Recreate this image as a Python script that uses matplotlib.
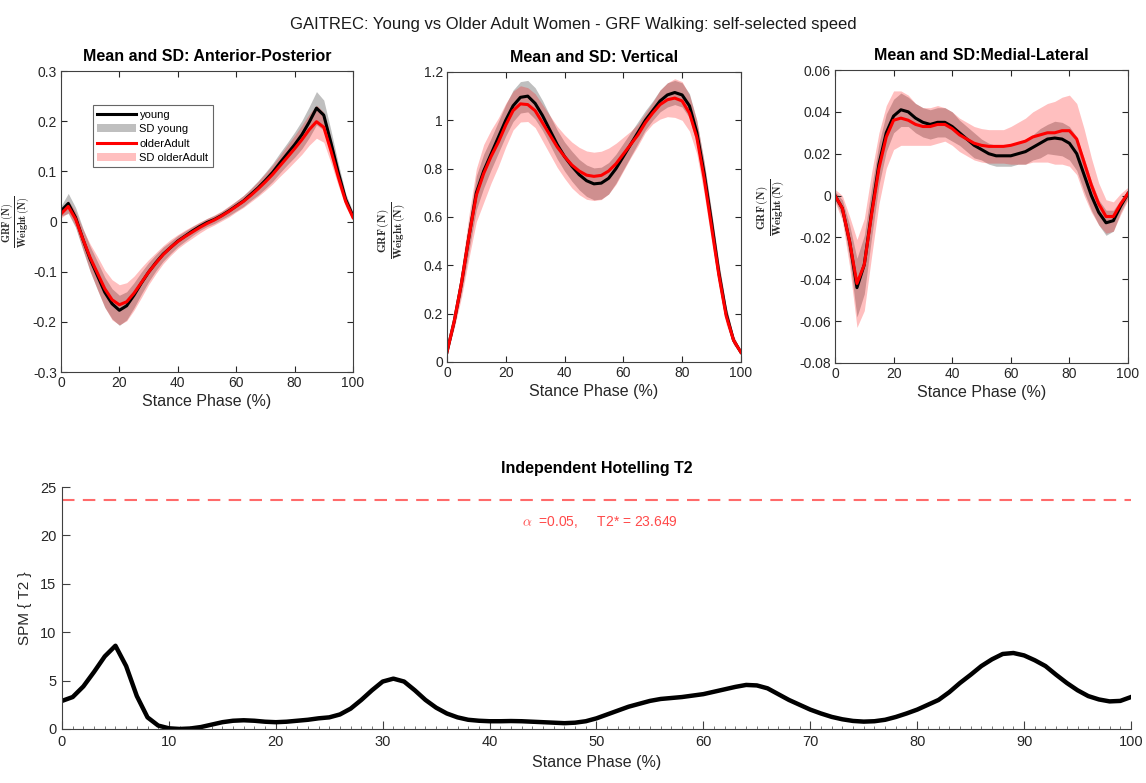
import numpy as np
import matplotlib
matplotlib.use('Agg')
import matplotlib.pyplot as plt
from matplotlib.patches import Patch
from matplotlib.lines import Line2D

plt.rcParams['font.family'] = ['Liberation Sans', 'DejaVu Sans']
plt.rcParams['mathtext.fontset'] = 'cm'

# stance phase sample points (%) for the mean / SD curves
pct = np.linspace(0, 100, 41)

# Anterior-Posterior
ap_young = [0.021, 0.036, 0.008, -0.035, -0.075, -0.108, -0.141, -0.164, -0.177, -0.168,
            -0.147, -0.123, -0.101, -0.082, -0.065, -0.052, -0.039, -0.029, -0.019, -0.010,
            -0.002, 0.004, 0.012, 0.021, 0.031, 0.041, 0.054, 0.067, 0.082, 0.098,
            0.117, 0.135, 0.153, 0.173, 0.198, 0.226, 0.212, 0.156, 0.097, 0.044, 0.011]
ap_young_sd = [0.010, 0.020, 0.020, 0.022, 0.025, 0.028, 0.030, 0.030, 0.030, 0.028,
               0.025, 0.022, 0.019, 0.016, 0.014, 0.012, 0.011, 0.010, 0.009, 0.008,
               0.008, 0.008, 0.008, 0.009, 0.010, 0.011, 0.012, 0.014, 0.016, 0.018,
               0.020, 0.022, 0.025, 0.028, 0.031, 0.033, 0.030, 0.025, 0.018, 0.012, 0.008]
ap_old = [0.015, 0.030, 0.005, -0.035, -0.072, -0.103, -0.134, -0.156, -0.166, -0.160,
          -0.143, -0.122, -0.101, -0.083, -0.066, -0.052, -0.040, -0.030, -0.021, -0.012,
          -0.004, 0.003, 0.011, 0.020, 0.030, 0.040, 0.052, 0.065, 0.079, 0.094,
          0.111, 0.128, 0.145, 0.163, 0.183, 0.199, 0.188, 0.140, 0.088, 0.040, 0.008]
ap_old_sd = [0.008, 0.012, 0.015, 0.020, 0.027, 0.033, 0.037, 0.040, 0.040, 0.038,
             0.034, 0.030, 0.025, 0.021, 0.018, 0.016, 0.014, 0.013, 0.012, 0.011,
             0.010, 0.010, 0.010, 0.011, 0.011, 0.012, 0.013, 0.015, 0.017, 0.019,
             0.021, 0.024, 0.026, 0.029, 0.031, 0.033, 0.030, 0.024, 0.017, 0.011, 0.007]

# Vertical
vt_young = [0.04, 0.17, 0.33, 0.52, 0.70, 0.79, 0.86, 0.93, 1.00, 1.06,
            1.095, 1.10, 1.07, 1.02, 0.96, 0.90, 0.85, 0.81, 0.775, 0.75,
            0.737, 0.74, 0.76, 0.80, 0.85, 0.90, 0.95, 1.00, 1.04, 1.08,
            1.105, 1.115, 1.105, 1.06, 0.95, 0.78, 0.58, 0.37, 0.20, 0.09, 0.04]
vt_young_sd = [0.005, 0.02, 0.04, 0.06, 0.07, 0.07, 0.065, 0.065, 0.065, 0.065,
               0.065, 0.065, 0.065, 0.062, 0.06, 0.06, 0.06, 0.062, 0.063, 0.065,
               0.066, 0.066, 0.065, 0.06, 0.055, 0.05, 0.045, 0.04, 0.04, 0.045,
               0.05, 0.05, 0.05, 0.05, 0.05, 0.05, 0.045, 0.04, 0.03, 0.015, 0.005]
vt_old = [0.04, 0.17, 0.33, 0.52, 0.69, 0.78, 0.85, 0.91, 0.98, 1.04,
          1.068, 1.065, 1.04, 0.99, 0.94, 0.89, 0.85, 0.815, 0.79, 0.773,
          0.768, 0.772, 0.79, 0.82, 0.86, 0.90, 0.94, 0.99, 1.03, 1.065,
          1.085, 1.092, 1.08, 1.03, 0.93, 0.76, 0.56, 0.36, 0.19, 0.09, 0.04]
vt_old_sd = [0.005, 0.03, 0.06, 0.09, 0.11, 0.12, 0.11, 0.10, 0.09, 0.08,
             0.075, 0.07, 0.07, 0.075, 0.08, 0.085, 0.09, 0.095, 0.098, 0.10,
             0.10, 0.10, 0.095, 0.085, 0.07, 0.055, 0.045, 0.04, 0.045, 0.06,
             0.07, 0.08, 0.08, 0.075, 0.07, 0.065, 0.06, 0.05, 0.035, 0.02, 0.005]

# Medial-Lateral
ml_young = [0.0, -0.006, -0.022, -0.044, -0.033, -0.008, 0.015, 0.030, 0.038, 0.041,
            0.040, 0.037, 0.035, 0.034, 0.035, 0.035, 0.033, 0.030, 0.027, 0.024,
            0.022, 0.020, 0.019, 0.019, 0.019, 0.020, 0.021, 0.023, 0.025, 0.027,
            0.0275, 0.027, 0.025, 0.020, 0.010, 0.000, -0.008, -0.013, -0.012, -0.005, 0.001]
ml_young_sd = [0.002, 0.004, 0.008, 0.014, 0.014, 0.012, 0.010, 0.009, 0.008, 0.008,
               0.007, 0.007, 0.007, 0.007, 0.007, 0.007, 0.007, 0.006, 0.006, 0.006,
               0.005, 0.005, 0.005, 0.005, 0.005, 0.005, 0.006, 0.006, 0.007, 0.007,
               0.008, 0.008, 0.008, 0.008, 0.008, 0.007, 0.006, 0.006, 0.005, 0.003, 0.002]
ml_old = [0.0, -0.006, -0.022, -0.042, -0.033, -0.009, 0.013, 0.028, 0.036, 0.037,
          0.036, 0.034, 0.033, 0.033, 0.034, 0.034, 0.032, 0.029, 0.027, 0.025,
          0.024, 0.0235, 0.0235, 0.0235, 0.024, 0.025, 0.026, 0.028, 0.029, 0.030,
          0.030, 0.031, 0.031, 0.027, 0.016, 0.005, -0.004, -0.010, -0.010, -0.004, 0.001]
ml_old_sd = [0.003, 0.006, 0.012, 0.021, 0.022, 0.020, 0.017, 0.015, 0.014, 0.013,
             0.012, 0.010, 0.009, 0.009, 0.009, 0.008, 0.008, 0.008, 0.008, 0.008,
             0.008, 0.008, 0.008, 0.008, 0.009, 0.010, 0.011, 0.012, 0.013, 0.014,
             0.015, 0.016, 0.017, 0.017, 0.016, 0.013, 0.010, 0.008, 0.007, 0.005, 0.003]

# Hotelling T2 statistic, 0..100 %
t2_pct = np.arange(0, 101)
t2 = [2.9, 3.3, 4.4, 5.9, 7.5, 8.6, 6.5, 3.4, 1.2, 0.35,
      0.07, 0.0, 0.05, 0.2, 0.45, 0.7, 0.85, 0.9, 0.85, 0.75,
      0.7, 0.75, 0.85, 0.95, 1.1, 1.2, 1.5, 2.1, 3.0, 4.0,
      4.9, 5.2, 4.9, 4.0, 3.0, 2.2, 1.6, 1.2, 0.95, 0.85,
      0.8, 0.8, 0.82, 0.8, 0.75, 0.7, 0.65, 0.6, 0.65, 0.8,
      1.1, 1.5, 1.9, 2.3, 2.6, 2.9, 3.1, 3.2, 3.3, 3.45,
      3.6, 3.85, 4.1, 4.35, 4.55, 4.5, 4.2, 3.6, 3.0, 2.5,
      2.0, 1.6, 1.25, 1.0, 0.83, 0.76, 0.8, 0.95, 1.24, 1.6,
      2.0, 2.5, 3.0, 3.8, 4.75, 5.6, 6.5, 7.2, 7.75, 7.85,
      7.6, 7.1, 6.5, 5.6, 4.75, 4.0, 3.4, 3.05, 2.85, 2.9, 3.3]
t2_crit = 23.649
alpha = 0.05

txt_col = '#262626'
grf_label = r'$\frac{\mathbf{GRF\,(N)}}{\mathbf{Weight\,(N)}}$'

fig = plt.figure(figsize=(11.46, 7.83), dpi=100)
fig.suptitle('GAITREC: Young vs Older Adult Women - GRF Walking: self-selected speed',
             y=0.978, fontsize=12, color='#1a1a1a')

panels = [
    ('Mean and SD: Anterior-Posterior', [0.0532, 0.5249, 0.2548, 0.3844],
     ap_young, ap_young_sd, ap_old, ap_old_sd, (-0.3, 0.3), np.arange(-0.3, 0.31, 0.1), (-0.098, 0.5), 10.5),
    ('Mean and SD: Vertical', [0.390, 0.5377, 0.2565, 0.3704],
     vt_young, vt_young_sd, vt_old, vt_old_sd, (0, 1.2), np.arange(0, 1.21, 0.2), (-0.13, 0.455), 11.5),
    ('Mean and SD:Medial-Lateral', [0.7286, 0.5364, 0.2557, 0.3742],
     ml_young, ml_young_sd, ml_old, ml_old_sd, (-0.08, 0.06), np.arange(-0.08, 0.061, 0.02), (-0.16, 0.53), 11.5),
]

for i, (title, pos, my, sy, mo, so, ylim, yt, lab_xy, lab_fs) in enumerate(panels):
    ax = fig.add_axes(pos)
    my, sy, mo, so = map(np.array, (my, sy, mo, so))
    ax.fill_between(pct, my - sy, my + sy, color='black', alpha=0.25, lw=0)
    ax.plot(pct, my, color='black', lw=2.2)
    ax.fill_between(pct, mo - so, mo + so, color='red', alpha=0.25, lw=0)
    ax.plot(pct, mo, color='red', lw=2.2)
    ax.set_xlim(0, 100)
    ax.set_ylim(*ylim)
    ax.set_xticks(np.arange(0, 101, 20))
    ax.set_yticks(yt)
    ax.set_yticklabels(['%g' % round(v, 2) for v in yt])
    ax.tick_params(direction='in', top=True, right=True, length=4, width=0.8,
                   labelsize=10, labelcolor=txt_col, color=txt_col, pad=3)
    for s in ax.spines.values():
        s.set_color('#404040')
        s.set_linewidth(0.8)
    ax.set_title(title, fontsize=11.5, fontweight='bold', pad=7, color='black')
    ax.set_xlabel('Stance Phase (%)', fontsize=11.5, color=txt_col, labelpad=3)
    ax.set_ylabel(grf_label, fontsize=lab_fs, color=txt_col)
    ax.yaxis.set_label_coords(*lab_xy)
    if i == 0:
        handles = [Line2D([], [], color='black', lw=2.2),
                   Patch(facecolor='black', alpha=0.25, lw=0),
                   Line2D([], [], color='red', lw=2.2),
                   Patch(facecolor='red', alpha=0.25, lw=0)]
        leg = ax.legend(handles, ['young', 'SD young', 'olderAdult', 'SD olderAdult'],
                        loc='upper left', bbox_to_anchor=(0.09, 0.905), fontsize=8,
                        frameon=True, fancybox=False, edgecolor='#404040',
                        handlelength=3.5, borderpad=0.4, labelspacing=0.4, handletextpad=0.3)
        leg.get_frame().set_linewidth(0.8)

# Hotelling T2 panel
ax = fig.add_axes([0.0541, 0.069, 0.9328, 0.309])
ax.plot(t2_pct, t2, color='black', lw=3.2)
ax.axhline(t2_crit, color='#ff6a6a', lw=1.5, ls=(0, (6, 4)))
ax.text(50.3, 21.4, r'$\alpha$  =%.2f,     T2* = %.3f' % (alpha, t2_crit),
        color='#ff4a4a', fontsize=10, ha='center', va='center')
ax.set_xlim(0, 100)
ax.set_ylim(0, 25)
ax.set_xticks(np.arange(0, 101, 10))
ax.set_xticks(np.arange(0, 101, 1), minor=True)
ax.set_yticks(np.arange(0, 26, 5))
ax.tick_params(direction='in', length=6, width=0.8, labelsize=10.5, labelcolor=txt_col,
               color='#404040', pad=4)
ax.tick_params(which='minor', direction='in', length=2, width=0.6, color='#606060')
ax.spines['top'].set_visible(False)
ax.spines['right'].set_visible(False)
for s in ('left', 'bottom'):
    ax.spines[s].set_color('#404040')
    ax.spines[s].set_linewidth(0.8)
ax.set_title('Independent Hotelling T2', fontsize=11.5, fontweight='bold', pad=10)
ax.set_xlabel('Stance Phase (%)', fontsize=11.5, color=txt_col, labelpad=5)
ax.set_ylabel('SPM { T2 }', fontsize=11, color=txt_col)
ax.yaxis.set_label_coords(-0.028, 0.5)

fig.savefig('out.png', dpi=100)
